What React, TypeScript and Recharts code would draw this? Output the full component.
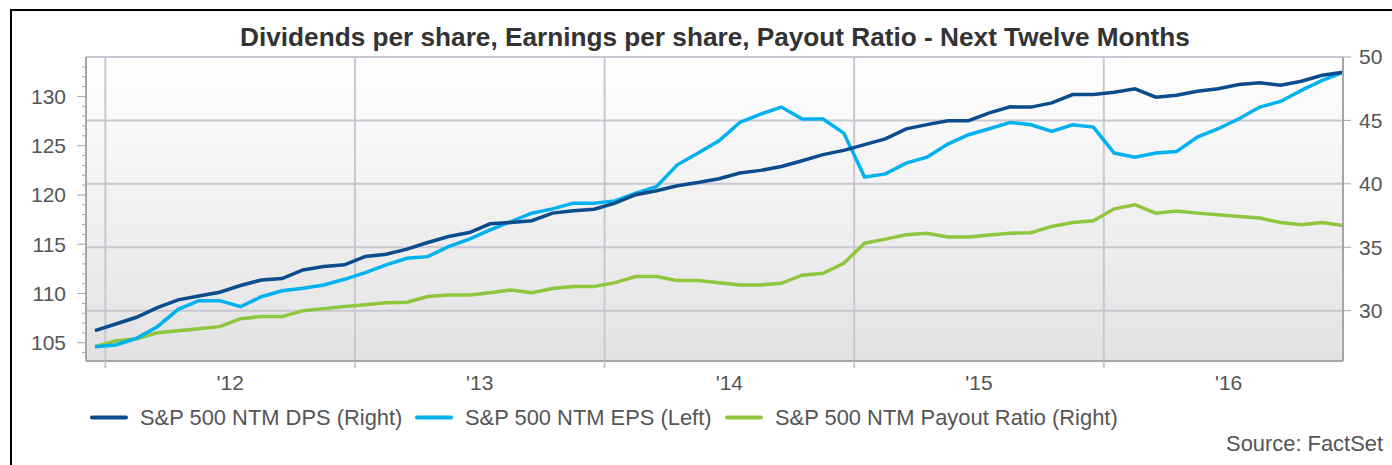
import React from "react";
import { LineChart, Line, XAxis, YAxis, ReferenceLine, ReferenceArea } from "recharts";

const months = [
  "Dec-11","Jan-12","Feb-12","Mar-12","Apr-12","May-12","Jun-12","Jul-12","Aug-12","Sep-12","Oct-12","Nov-12",
  "Dec-12","Jan-13","Feb-13","Mar-13","Apr-13","May-13","Jun-13","Jul-13","Aug-13","Sep-13","Oct-13","Nov-13",
  "Dec-13","Jan-14","Feb-14","Mar-14","Apr-14","May-14","Jun-14","Jul-14","Aug-14","Sep-14","Oct-14","Nov-14",
  "Dec-14","Jan-15","Feb-15","Mar-15","Apr-15","May-15","Jun-15","Jul-15","Aug-15","Sep-15","Oct-15","Nov-15",
  "Dec-15","Jan-16","Feb-16","Mar-16","Apr-16","May-16","Jun-16","Jul-16","Aug-16","Sep-16","Oct-16","Nov-16",
  "Dec-16",
];

const dps = [
  28.42, 28.95, 29.48, 30.24, 30.85, 31.16, 31.45, 31.98, 32.42, 32.53, 33.21, 33.48,
  33.61, 34.27, 34.45, 34.85, 35.37, 35.85, 36.16, 36.85, 36.95, 37.09, 37.69, 37.87,
  38.0, 38.48, 39.14, 39.45, 39.85, 40.11, 40.4, 40.85, 41.06, 41.37, 41.82, 42.3,
  42.64, 43.09, 43.54, 44.33, 44.67, 44.98, 44.98, 45.59, 46.07, 46.05, 46.38, 47.04,
  47.04, 47.22, 47.49, 46.83, 46.98, 47.3, 47.49, 47.83, 47.96, 47.77, 48.09, 48.56,
  48.8,
];

const eps = [
  104.59, 104.77, 105.45, 106.63, 108.39, 109.27, 109.27, 108.66, 109.67, 110.28, 110.53, 110.86,
  111.44, 112.11, 112.9, 113.58, 113.74, 114.76, 115.51, 116.45, 117.3, 118.15, 118.59, 119.17,
  119.17, 119.4, 120.18, 120.85, 123.06, 124.25, 125.5, 127.36, 128.21, 128.92, 127.7, 127.7,
  126.28, 121.81, 122.14, 123.23, 123.84, 125.16, 126.11, 126.72, 127.36, 127.12, 126.44, 127.12,
  126.89, 124.25, 123.84, 124.25, 124.41, 125.87, 126.72, 127.73, 128.92, 129.49, 130.61, 131.63,
  132.44,
];

const payout = [
  27.16, 27.61, 27.79, 28.26, 28.42, 28.58, 28.74, 29.37, 29.53, 29.53, 30.0, 30.16,
  30.32, 30.47, 30.63, 30.66, 31.11, 31.24, 31.24, 31.42, 31.63, 31.42, 31.74, 31.9,
  31.9, 32.21, 32.69, 32.69, 32.37, 32.37, 32.2, 32.03, 32.03, 32.16, 32.8, 32.95,
  33.74, 35.32, 35.64, 35.98, 36.11, 35.8, 35.8, 35.96, 36.11, 36.14, 36.64, 36.95,
  37.09, 38.03, 38.35, 37.69, 37.85, 37.69, 37.56, 37.43, 37.3, 36.95, 36.77, 36.95,
  36.71,
];

const leftTicks = [104,105,106,107,108,109,110,111,112,113,114,115,116,117,118,119,120,121,122,123,124,125,126,127,128,129,130,131,132,133];
const rightTicks = [30, 35, 40, 45, 50];
const yearBoundaries = [0.5, 12.5, 24.5, 36.5, 48.5];
const yearLabelPositions = [6.5, 18.5, 30.5, 42.5, 54.5];
const yearLabels = ["'12", "'13", "'14", "'15", "'16"];

const seriesNames = ["S&P 500 NTM DPS (Right)", "S&P 500 NTM EPS (Left)", "S&P 500 NTM Payout Ratio (Right)"];
const COLORS = { dps: "#0a4c8c", eps: "#00b1f0", payout: "#8fc63e" };

const data = months.map((m, i) => ({ i, month: m, dps: dps[i], eps: eps[i], payout: payout[i] }));

const FONT = '"Liberation Sans", Arial, Helvetica, sans-serif';
const GRID = "#c9c7d1";
const AXIS = "#a6a6a6";
const TEXT = "#555555";
const PLOT_LEFT = 86;
const PLOT_BOTTOM = 361;

const LeftTick = (props: any) => {
  const { y, payload } = props;
  const v = payload.value;
  const major = v % 5 === 0;
  return (
    <g>
      <line x1={major ? PLOT_LEFT - 9 : PLOT_LEFT - 4} x2={PLOT_LEFT} y1={y} y2={y} stroke={AXIS} strokeWidth={1} />
      {major && (
        <text x={PLOT_LEFT - 20} y={y} dy="0.355em" textAnchor="end" fill={TEXT} fontSize={21} fontFamily={FONT}>
          {v}
        </text>
      )}
    </g>
  );
};

const XTick = (props: any) => {
  const { x, payload } = props;
  const v = payload.value;
  const idx = yearLabelPositions.indexOf(v);
  if (idx < 0) {
    return <line x1={x} x2={x} y1={PLOT_BOTTOM} y2={PLOT_BOTTOM + 7} stroke={GRID} strokeWidth={2} />;
  }
  return (
    <text x={x} y={390} textAnchor="middle" fill={TEXT} fontSize={21} fontFamily={FONT}>
      {yearLabels[idx]}
    </text>
  );
};

export default function App() {
  const legendItems = [
    { name: seriesNames[0], color: COLORS.dps, x: 92 },
    { name: seriesNames[1], color: COLORS.eps, x: 417 },
    { name: seriesNames[2], color: COLORS.payout, x: 727 },
  ];
  return (
    <div style={{ position: "absolute", left: 0, top: 0, width: 1392, height: 465, background: "#fff", overflow: "hidden", fontFamily: FONT }}>
      <LineChart width={1392} height={465} data={data} margin={{ top: 57, right: 0, bottom: 0, left: 0 }}>
        <defs>
          <linearGradient id="plotBg" x1="0" y1="0" x2="0" y2="1">
            <stop offset="0%" stopColor="#ffffff" />
            <stop offset="100%" stopColor="#e2e2e2" />
          </linearGradient>
        </defs>
        <XAxis
          dataKey="i"
          type="number"
          domain={[-0.43, 60]}
          allowDataOverflow
          ticks={[...yearBoundaries, ...yearLabelPositions].sort((a, b) => a - b)}
          interval={0}
          height={104}
          tick={<XTick />}
          tickLine={false}
          axisLine={{ stroke: AXIS, strokeWidth: 2 }}
        />
        <YAxis
          yAxisId="left"
          orientation="left"
          type="number"
          width={86}
          domain={[103.15, 134]}
          allowDataOverflow
          ticks={leftTicks}
          interval={0}
          tick={<LeftTick />}
          tickLine={false}
          axisLine={{ stroke: AXIS, strokeWidth: 2 }}
        />
        <YAxis
          yAxisId="right"
          orientation="right"
          type="number"
          width={49}
          domain={[26.03, 50]}
          allowDataOverflow
          ticks={rightTicks}
          interval={0}
          tickSize={8}
          tickMargin={8}
          tick={{ fill: TEXT, fontSize: 21, fontFamily: FONT }}
          tickLine={{ stroke: AXIS, strokeWidth: 1 }}
          axisLine={{ stroke: AXIS, strokeWidth: 2 }}
        />
        <ReferenceArea yAxisId="right" x1={-0.43} x2={60} y1={26.03} y2={50} fill="url(#plotBg)" fillOpacity={1} stroke="none" ifOverflow="hidden" />
        {rightTicks.map((t) => (
          <ReferenceLine key={"h" + t} yAxisId="right" y={t} stroke={GRID} strokeWidth={2} />
        ))}
        {yearBoundaries.map((t) => (
          <ReferenceLine key={"v" + t} yAxisId="left" x={t} stroke={GRID} strokeWidth={2} />
        ))}
        <Line yAxisId="right" type="linear" dataKey="payout" stroke={COLORS.payout} strokeWidth={3.5} dot={false} isAnimationActive={false} name={seriesNames[2]} />
        <Line yAxisId="left" type="linear" dataKey="eps" stroke={COLORS.eps} strokeWidth={3.5} dot={false} isAnimationActive={false} name={seriesNames[1]} />
        <Line yAxisId="right" type="linear" dataKey="dps" stroke={COLORS.dps} strokeWidth={3.5} dot={false} isAnimationActive={false} name={seriesNames[0]} />
      </LineChart>
      <svg width={1392} height={465} style={{ position: "absolute", left: 0, top: 0, pointerEvents: "none" }}>
        <rect x={11} y={10} width={1500} height={600} fill="none" stroke="#000" strokeWidth={2} />
        <text x={715} y={46} textAnchor="middle" fontSize={26.2} fontWeight="bold" fill="#333" fontFamily={FONT}>
          Dividends per share, Earnings per share, Payout Ratio - Next Twelve Months
        </text>
        {legendItems.map((it) => (
          <g key={it.name}>
            <line x1={it.x} x2={it.x + 34} y1={417.5} y2={417.5} stroke={it.color} strokeWidth={4} strokeLinecap="round" />
            <text x={it.x + 48} y={424.5} fontSize={21.9} fill={TEXT} fontFamily={FONT}>
              {it.name}
            </text>
          </g>
        ))}
        <text x={1383} y={451} textAnchor="end" fontSize={21.9} fill={TEXT} fontFamily={FONT}>
          Source: FactSet
        </text>
      </svg>
    </div>
  );
}
